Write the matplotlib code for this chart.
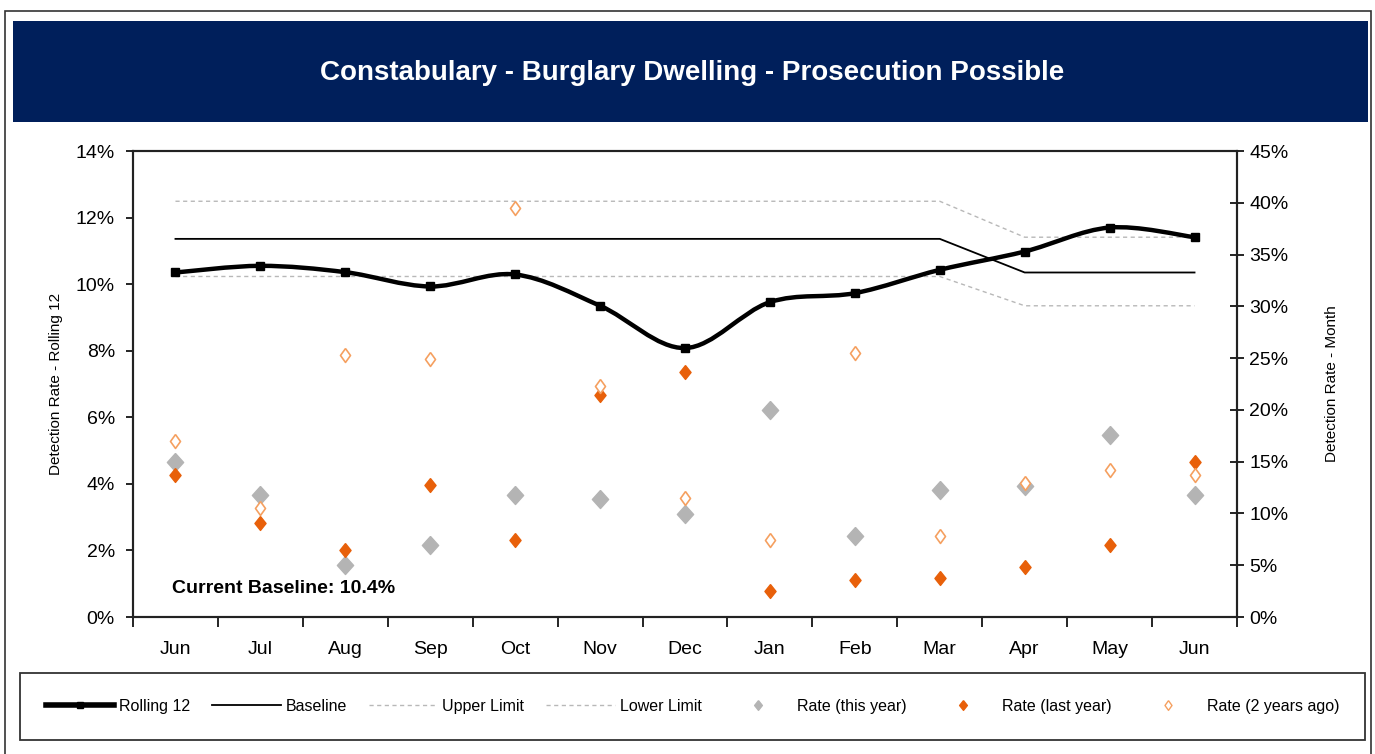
import numpy as np
import matplotlib
matplotlib.use("Agg")
from matplotlib import pyplot as plt
from matplotlib.patches import Rectangle, PathPatch
from matplotlib.path import Path
from matplotlib.lines import Line2D
from matplotlib.ticker import FixedLocator, NullFormatter, FuncFormatter

NARROW = ['Liberation Sans Narrow', 'Liberation Sans', 'DejaVu Sans']
REGULAR = ['Liberation Sans', 'DejaVu Sans']

# months across the bottom
months = ['Jun', 'Jul', 'Aug', 'Sep', 'Oct', 'Nov', 'Dec',
          'Jan', 'Feb', 'Mar', 'Apr', 'May', 'Jun']

# left axis, %
rolling12 = [10.35, 10.55, 10.36, 9.93, 10.29, 9.35, 8.08,
             9.46, 9.73, 10.43, 10.98, 11.70, 11.41]
baseline = [11.36] * 10 + [10.35] * 3
upper_limit = [12.49] * 10 + [11.41] * 3
lower_limit = [10.23] * 10 + [9.35] * 3

# right axis, %
rate_this_year = [15.0, 11.8, 5.0, 7.0, 11.75, 11.4, 9.9,
                  20.0, 7.8, 12.3, 12.65, 17.6, 11.75]
rate_last_year = [13.75, 9.05, 6.45, 12.7, 7.45, 21.4, 23.7,
                  2.5, 3.6, 3.8, 4.8, 7.0, 15.0]
rate_2_years_ago = [17.0, 10.5, 25.3, 24.9, 39.5, 22.3, 11.5,
                    7.45, 25.5, 7.8, 12.9, 14.2, 13.7]

baseline_note = 'Current Baseline: 10.4%'
title = 'Constabulary - Burglary Dwelling - Prosecution Possible'

NAVY = '#001f5b'
GREY = '#b4b4b4'
ORANGE = '#e8600a'
LIGHT_ORANGE = '#f5a060'
LIMIT = '#b8b8b8'


def diamond(r):
    return [(0, 1), (r, 0), (0, -1), (-r, 0), (0, 1)]


def smooth_path(xs, ys):
    # Catmull-Rom segments as cubic beziers, like a smoothed spreadsheet line
    pts = np.column_stack([xs, ys]).astype(float)
    verts = [pts[0]]
    codes = [Path.MOVETO]
    n = len(pts)
    for i in range(n - 1):
        p0 = pts[max(i - 1, 0)]
        p1 = pts[i]
        p2 = pts[i + 1]
        p3 = pts[min(i + 2, n - 1)]
        c1 = p1 + (p2 - p0) / 6.0
        c2 = p2 - (p3 - p1) / 6.0
        verts += [c1, c2, p2]
        codes += [Path.CURVE4] * 3
    return Path(verts, codes)


W, H = 1375, 754
fig = plt.figure(figsize=(W / 100, H / 100), dpi=100)

# outer frame and title banner
fig.patches.append(Rectangle((5 / W, -0.01), 1366 / W, (H - 11) / H + 0.01,
                             transform=fig.transFigure, fill=False,
                             edgecolor='#333333', lw=1.2))
fig.patches.append(Rectangle((13 / W, (H - 122) / H), 1355 / W, 101 / H,
                             transform=fig.transFigure, facecolor=NAVY,
                             edgecolor='none'))
fig.text(692 / W, (H - 73) / H, title, color='white', fontsize=20,
         fontweight='bold', family=NARROW, ha='center', va='center')

ax = fig.add_axes([133 / W, (H - 617) / H, 1104 / W, 466 / H])
x = np.arange(len(months))

ax.plot(x, upper_limit, color=LIMIT, lw=1.0, dashes=(3, 2.5), zorder=2)
ax.plot(x, lower_limit, color=LIMIT, lw=1.0, dashes=(3, 2.5), zorder=2)
ax.plot(x, baseline, color='black', lw=1.3, zorder=3)
ax.add_patch(PathPatch(smooth_path(x, rolling12), fill=False,
                       edgecolor='black', lw=3.2, zorder=4,
                       capstyle='round', joinstyle='round'))
ax.plot(x, rolling12, ls='none', marker='s', ms=5.5, color='black', zorder=5)

ax.set_xlim(-0.5, len(months) - 0.5)
ax.set_ylim(0, 14)
ax.set_yticks(np.arange(0, 15, 2))
ax.yaxis.set_major_formatter(FuncFormatter(lambda v, p: f'{v:.0f}%'))
ax.xaxis.set_major_locator(FixedLocator(np.arange(-0.5, len(months), 1)))
ax.xaxis.set_major_formatter(NullFormatter())
ax.xaxis.set_minor_locator(FixedLocator(x))
ax.set_xticklabels(months, minor=True)
ax.tick_params(axis='x', which='major', direction='out', length=7, width=1.2)
ax.tick_params(axis='x', which='minor', length=0, pad=17, labelsize=14)
ax.tick_params(axis='y', direction='out', length=5, width=1.2, labelsize=14,
               pad=8)
for lab in ax.get_xticklabels(minor=True) + ax.get_yticklabels():
    lab.set_family(NARROW)
for s in ax.spines.values():
    s.set_linewidth(1.5)
    s.set_color('#222222')
ax.set_ylabel('Detection Rate - Rolling 12', family=REGULAR, fontsize=11,
              labelpad=9)

ax.text(0.035, 0.062, baseline_note, transform=ax.transAxes, fontsize=14,
        fontweight='bold', family=NARROW, va='center', ha='left')

ax2 = ax.twinx()
ax2.plot(x, rate_this_year, ls='none', marker=diamond(0.9), ms=13,
         color=GREY, mec=GREY, zorder=3)
ax2.plot(x, rate_last_year, ls='none', marker=diamond(0.8), ms=10,
         color=ORANGE, mec=ORANGE, zorder=4)
ax2.plot(x, rate_2_years_ago, ls='none', marker=diamond(0.72), ms=10,
         mfc='white', mec=LIGHT_ORANGE, mew=1.2, zorder=5)
ax2.set_ylim(0, 45)
ax2.set_yticks(np.arange(0, 46, 5))
ax2.yaxis.set_major_formatter(FuncFormatter(lambda v, p: f'{v:.0f}%'))
ax2.tick_params(axis='y', direction='inout', length=10, width=1.2,
                labelsize=14, pad=4)
for lab in ax2.get_yticklabels():
    lab.set_family(NARROW)
for s in ax2.spines.values():
    s.set_linewidth(1.5)
    s.set_color('#222222')
ax2.set_ylabel('Detection Rate - Month', family=REGULAR, fontsize=11,
               labelpad=26)

handles = [
    Line2D([], [], color='black', lw=4, marker='s', ms=4),
    Line2D([], [], color='black', lw=1.3),
    Line2D([], [], color=LIMIT, lw=1.0, dashes=(3, 2.5)),
    Line2D([], [], color=LIMIT, lw=1.0, dashes=(3, 2.5)),
    Line2D([], [], ls='none', marker=diamond(0.8), ms=7, color=GREY),
    Line2D([], [], ls='none', marker=diamond(0.8), ms=7, color=ORANGE),
    Line2D([], [], ls='none', marker=diamond(0.72), ms=7, mfc='white',
           mec=LIGHT_ORANGE, mew=1.0),
]
names = ['Rolling 12', 'Baseline', 'Upper Limit', 'Lower Limit',
         'Rate (this year)', 'Rate (last year)', 'Rate (2 years ago)']
leg = fig.legend(handles, names, ncol=7, mode='expand',
                 bbox_to_anchor=(20 / W, (H - 742) / H, 1345 / W, 71 / H),
                 loc='center', fancybox=False, frameon=True, edgecolor='black',
                 borderaxespad=0, handlelength=4.3, handletextpad=0.3,
                 borderpad=1.6, prop={'family': NARROW, 'size': 11.5})
leg.get_frame().set_linewidth(1.3)

fig.savefig('out.png', dpi=100)
